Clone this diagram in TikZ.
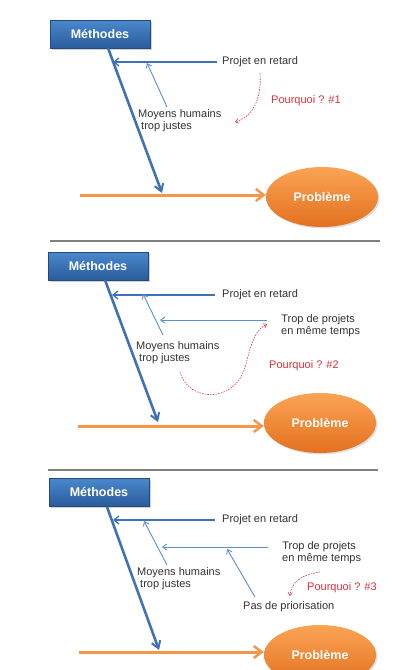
\documentclass[tikz,border=0pt]{standalone}
\usepackage{fontspec}
\setmainfont{Liberation Sans}
\usetikzlibrary{arrows.meta,shapes.geometric,shadows}
\definecolor{boxtop}{HTML}{4A88CC}
\definecolor{boxbot}{HTML}{2A5C9C}
\definecolor{spineblue}{HTML}{3F72B4}
\definecolor{thinblue}{HTML}{5B8ED0}
\definecolor{orline}{HTML}{F79646}
\definecolor{ortop}{HTML}{FBA454}
\definecolor{orbot}{HTML}{E2711F}
\definecolor{whyred}{HTML}{D8323C}
\definecolor{txtgray}{HTML}{333333}
\definecolor{sepgray}{HTML}{7F7F7F}
\tikzset{
  methbox/.style={rectangle, minimum width=100pt, minimum height=28pt, top color=boxtop, bottom color=boxbot,
    draw=boxbot!80!black, line width=0.4pt, text=white, font=\fontsize{12.5}{14}\selectfont\bfseries,
    drop shadow={shadow xshift=2pt, shadow yshift=-2pt, opacity=0.35}},
  probnode/.style={ellipse, minimum width=112pt, minimum height=60pt, top color=ortop, bottom color=orbot,
    draw=none, text=white, font=\fontsize{12.5}{14}\selectfont\bfseries,
    drop shadow={shadow xshift=1.5pt, shadow yshift=-1.5pt, opacity=0.25}},
  lbl/.style={text=txtgray, font=\fontsize{11}{12.5}\selectfont, inner sep=1pt},
  mlbl/.style={lbl, align=left, anchor=north west},
  clbl/.style={lbl, align=center},
  whylbl/.style={text=whyred, font=\fontsize{11}{12.5}\selectfont, inner sep=1pt, anchor=west},
  spine/.style={draw=spineblue, line width=2.6pt, -{Straight Barb[length=7pt, width=9pt, line width=2pt]}},
  orarrow/.style={draw=orline, line width=3pt, -{Straight Barb[length=8pt, width=12pt, line width=2.4pt]}},
  bone/.style={draw=spineblue, line width=1.4pt, -{Straight Barb[length=5pt, width=8pt, line width=1.3pt]}},
  thinbone/.style={draw=thinblue, line width=0.9pt, -{Straight Barb[length=4pt, width=6pt, line width=0.9pt]}},
  whyarrow/.style={draw=whyred, line width=0.6pt, dash pattern=on 1.5pt off 1.2pt, -{Straight Barb[length=3pt, width=4.5pt]}},
  sep/.style={draw=sepgray, line width=2pt}
}
\begin{document}
\begin{tikzpicture}[x=1pt,y=-1pt]
\useasboundingbox[fill=white] (0,0) rectangle (414,670);

% ---------- Panel 1 ----------
\node[methbox] (m1) at (100,34) {Méthodes};
\node[probnode] (p1) at (322,197) {Problème};
\coordinate (s1a) at (108,48);
\coordinate (s1b) at (162,193);
\coordinate (o1a) at (80,195);
\draw[orarrow] (o1a) -- (p1.west |- o1a);
\draw[spine] (s1a) -- (s1b);
\node[lbl, anchor=west] (r1) at (221,62) {Projet en retard};
\coordinate (r1s) at (217,62);
\coordinate (r1e) at (113,62);
\draw[bone] (r1s) -- (r1e);
\node[mlbl] (h1) at (137,108) {Moyens humains\\\hspace*{3pt}trop justes};
\coordinate (h1a) at (167,107);
\coordinate (h1e) at (147,63);
\draw[thinbone] (h1a) -- (h1e);
\node[whylbl] (w1) at (270,101) {Pourquoi ? \#1};
\coordinate (c1a) at (260,73);
\coordinate (c1b) at (235,122);
\draw[whyarrow] (c1a) .. controls (262,100) and (252,117) .. (c1b);

\draw[sep] (50,241) -- (380,241);

% ---------- Panel 2 ----------
\node[methbox] (m2) at (98,266) {Méthodes};
\node[probnode] (p2) at (320,423) {Problème};
\coordinate (s2a) at (105,280);
\coordinate (s2b) at (158,422);
\coordinate (o2a) at (78,426);
\draw[orarrow] (o2a) -- (p2.west |- o2a);
\draw[spine] (s2a) -- (s2b);
\node[lbl, anchor=west] (r2) at (221,295) {Projet en retard};
\coordinate (r2s) at (215,295);
\coordinate (r2e) at (112,295);
\draw[bone] (r2s) -- (r2e);
\node[clbl, anchor=north west] (t2) at (275,313) {Trop de projets\\\hspace*{5pt}en même temps};
\coordinate (t2s) at (267,320);
\coordinate (t2e) at (160,320);
\draw[thinbone] (t2s) -- (t2e);
\node[mlbl] (h2) at (135,340) {Moyens humains\\\hspace*{3pt}trop justes};
\coordinate (h2a) at (163,335);
\coordinate (h2e) at (143,294);
\draw[thinbone] (h2a) -- (h2e);
\node[whylbl] (w2) at (268,366) {Pourquoi ? \#2};
\coordinate (c2a) at (180,372);
\coordinate (c2m) at (246,364);
\coordinate (c2b) at (267,324);
\draw[whyarrow] (c2a) .. controls (188,402) and (236,405) .. (c2m) .. controls (252,340) and (256,330) .. (c2b);

\draw[sep] (48,470) -- (378,470);

% ---------- Panel 3 ----------
\node[methbox] (m3) at (99,492) {Méthodes};
\node[probnode] (p3) at (320,655) {Problème};
\coordinate (s3a) at (107,507);
\coordinate (s3b) at (159,650);
\coordinate (o3a) at (79,652);
\draw[orarrow] (o3a) -- (p3.west |- o3a);
\draw[spine] (s3a) -- (s3b);
\node[lbl, anchor=west] (r3) at (221,520) {Projet en retard};
\coordinate (r3s) at (215,520);
\coordinate (r3e) at (113,520);
\draw[bone] (r3s) -- (r3e);
\node[clbl, anchor=north west] (t3) at (276,540) {Trop de projets\\\hspace*{5pt}en même temps};
\coordinate (t3s) at (268,547);
\coordinate (t3e) at (162,547);
\draw[thinbone] (t3s) -- (t3e);
\node[mlbl] (h3) at (136,566) {Moyens humains\\\hspace*{3pt}trop justes};
\coordinate (h3a) at (167,565);
\coordinate (h3e) at (144,521);
\draw[thinbone] (h3a) -- (h3e);
\node[lbl, anchor=west] (d3) at (242,607) {Pas de priorisation};
\coordinate (d3a) at (255,597);
\coordinate (d3e) at (227,549);
\draw[thinbone] (d3a) -- (d3e);
\node[whylbl] (w3) at (306,588) {Pourquoi ? \#3};
\coordinate (c3a) at (320,572);
\coordinate (c3b) at (290,596);
\draw[whyarrow] (c3a) .. controls (300,575) and (291,583) .. (c3b);
\end{tikzpicture}
\end{document}
